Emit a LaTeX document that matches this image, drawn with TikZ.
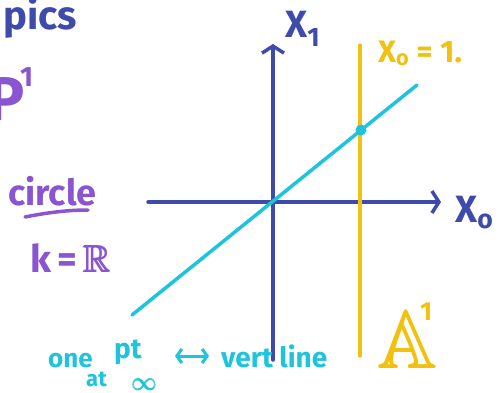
\documentclass[tikz,border=0pt]{standalone}
\usepackage{amssymb}
\usepackage{amsmath}
\usepackage{fontspec}
\setmainfont{Fira Sans}
\usetikzlibrary{arrows.meta}
\definecolor{axblue}{HTML}{3F4BAA}
\definecolor{cyanl}{HTML}{1EC3DD}
\definecolor{yell}{HTML}{F2C10F}
\definecolor{purp}{HTML}{8A55D0}
\tikzset{
  pen/.style={line width=3.5pt, line cap=round},
  axis/.style={pen, draw=axblue, -{Straight Barb[length=7pt,width=22pt,line width=3.5pt]}},
  lbl/.style={inner sep=0pt, font=\fontsize{#1}{#1}\selectfont\bfseries},
}
\begin{document}
\begin{tikzpicture}[x=1pt,y=-1pt]
\useasboundingbox (0,0) rectangle (499,392);
% axes
\coordinate (hl) at (148,202); \coordinate (hr) at (441,202);
\coordinate (vb) at (273,360); \coordinate (vt) at (273,44);
\draw[axis] (hl) -- (hr);
\draw[axis] (vb) -- (vt);
% yellow line
\coordinate (yb) at (360,356); \coordinate (yt) at (360,45);
\draw[pen, draw=yell] (yb) -- (yt);
% cyan line
\coordinate (cb) at (132,315); \coordinate (ct) at (417,85);
\draw[pen, draw=cyanl] (cb) -- (ct);
\node[circle, fill=cyanl, minimum size=11pt, inner sep=0pt] (dot) at (361,130) {};
% labels
\node[lbl=38, text=axblue, anchor=base west] (x1) at (285,37) {X\textsubscript{1}};
\node[lbl=38, text=axblue, anchor=base west] (x0) at (455,222) {X\textsubscript{o}};
\node[lbl=31, text=yell, anchor=base west] (x01) at (378,62) {X\textsubscript{o} = 1.};
\node[lbl=82, text=yell, anchor=base west] (a1) at (378,368) {$\pmb{\mathbb{A}}$};
\node[lbl=26, text=yell, anchor=base west] (a1s) at (420,320) {1};
\node[lbl=40, text=axblue, anchor=base west] (pics) at (3,29) {pics};
\node[lbl=62, text=purp, anchor=base west] (p1) at (-13,120) {P};
\node[lbl=28, text=purp, anchor=base west] (p1s) at (20,86) {1};
\node[lbl=36, text=purp, anchor=base west] (circ) at (8,205) {circle};
\draw[pen, draw=purp] (25,217) .. controls (50,212) and (70,210) .. (88,210);
\node[lbl=38, text=purp, anchor=base west] (kr) at (30,272) {k\,=\,$\pmb{\mathbb{R}}$};
% bottom text
\node[lbl=26, text=cyanl, anchor=base west] (one) at (48,367) {one};
\node[lbl=28, text=cyanl, anchor=base west] (pt) at (114,358) {pt};
\node[lbl=22, text=cyanl, anchor=base west] (at) at (86,386) {at};
\node[lbl=50, text=cyanl, anchor=base west] (inf) at (132,390) {$\pmb{\infty}$};
\node[lbl=28, text=cyanl, anchor=base west] (vl) at (221,367) {vert line};
\draw[pen, line width=3pt, draw=cyanl, {Straight Barb[length=5pt,width=14pt]}-{Straight Barb[length=5pt,width=14pt]}] (175,356) -- (209,356);
\end{tikzpicture}
\end{document}
